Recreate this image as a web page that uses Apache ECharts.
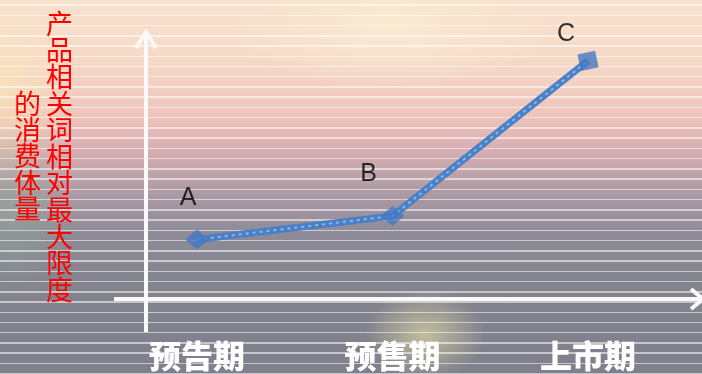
<!DOCTYPE html>
<html>
<head>
<meta charset="utf-8">
<script src="https://cdn.jsdelivr.net/npm/echarts@6/dist/echarts.min.js"></script>
<style>
html,body{margin:0;padding:0;}
#wrap{position:relative;width:702px;height:374px;overflow:hidden;
background:
 repeating-linear-gradient(to bottom, rgba(255,255,255,0) 0px, rgba(255,255,255,0) 4.3px, rgba(255,255,255,0.55) 4.3px, rgba(255,255,255,0.55) 5.8px, rgba(255,255,255,0) 5.8px, rgba(255,255,255,0) 10.24px),
 radial-gradient(ellipse 60px 45px at 425px 335px, rgba(215,210,160,0.75), rgba(215,210,160,0)),
 radial-gradient(ellipse 70px 90px at 5px 90px, rgba(250,235,180,0.6), rgba(250,235,180,0)),
 radial-gradient(ellipse 55px 90px at 15px 210px, rgba(140,170,150,0.55), rgba(140,170,150,0)),
 radial-gradient(ellipse 160px 60px at 390px 30px, rgba(252,238,210,0.7), rgba(252,238,210,0)),
 linear-gradient(to bottom, #f8e2cd 0%, #f6d9c8 16%, #efc6bd 30%, #d8aeb2 40%, #ab9aa5 52%, #8f8b98 62%, #84848f 75%, #7f808c 100%);
}
#chart{position:absolute;left:0;top:0;width:702px;height:374px;}
</style>
</head>
<body>
<div id="wrap"><div id="chart"></div></div>
<script>
// ---- data ----
var categories = ['预告期', '预售期', '上市期'];
var pointLabels = ['A', 'B', 'C'];
var values = [21.8, 30.6, 88.5];
var yTitleCol1 = '产品相关词相对最大限度';
var yTitleCol2 = '的消费体量';

var chart = echarts.init(document.getElementById('chart'), null, {renderer: 'canvas'});

var labelOffsets = [[-9, -41], [-24, -42], [-22, -27]];
var scatterData = values.map(function (v, i) {
  return {
    value: v,
    symbol: i === 2 ? 'rect' : 'diamond',
    symbolRotate: i === 2 ? 12 : 0,
    label: {show: true, formatter: pointLabels[i], position: 'inside', offset: labelOffsets[i]}
  };
});

function vertical(s) { return s.split('').join('\n'); }

var option = {
  backgroundColor: 'transparent',
  animation: false,
  grid: {left: 197, right: 114, top: 30, bottom: 76, containLabel: false},
  xAxis: {
    type: 'category',
    data: categories,
    boundaryGap: false,
    axisLine: {show: false},
    axisTick: {show: false},
    splitLine: {show: false},
    axisLabel: {
      margin: 42,
      color: '#ffffff',
      fontSize: 32,
      fontWeight: 900,
      fontFamily: '"Noto Sans CJK SC", sans-serif'
    }
  },
  yAxis: {
    type: 'value',
    min: 0,
    max: 100,
    show: false
  },
  graphic: [
    {type: 'line', shape: {x1: 146, y1: 332, x2: 146, y2: 32}, style: {stroke: '#fafafa', lineWidth: 4}, z: 1},
    {type: 'polyline', shape: {points: [[136, 48], [146, 32], [156, 48]]}, style: {stroke: '#fafafa', lineWidth: 4, fill: null}, z: 1},
    {type: 'line', shape: {x1: 114, y1: 299, x2: 700, y2: 299}, style: {stroke: '#fafafa', lineWidth: 4}, z: 1},
    {type: 'polyline', shape: {points: [[691, 289], [703, 299], [691, 309]]}, style: {stroke: '#fafafa', lineWidth: 4, fill: null}, z: 1},
    {type: 'text', left: 46, top: 10, style: {text: vertical(yTitleCol1), fill: '#ff0000', fontSize: 27, lineHeight: 26.6, fontFamily: '"Noto Sans CJK SC", sans-serif'}, z: 5},
    {type: 'text', left: 14, top: 90, style: {text: vertical(yTitleCol2), fill: '#ff0000', fontSize: 27, lineHeight: 26.3, fontFamily: '"Noto Sans CJK SC", sans-serif'}, z: 5}
  ],
  series: [
    {
      type: 'line',
      data: values,
      showSymbol: false,
      symbol: 'none',
      lineStyle: {color: '#4a80c6', width: 7},
      z: 3
    },
    {
      type: 'line',
      data: values,
      showSymbol: false,
      symbol: 'none',
      lineStyle: {color: 'rgba(160,195,235,0.8)', width: 2, type: [3, 4]},
      z: 4
    },
    {
      type: 'scatter',
      data: scatterData,
      symbolSize: function (v, p) { return p.dataIndex === 2 ? [18, 17] : [24, 20]; },
      itemStyle: {color: '#4479c2'},
      label: {color: '#000000', fontSize: 25, fontFamily: 'Liberation Sans, Arial, sans-serif', align: 'center', verticalAlign: 'middle'},
      z: 5
    }
  ]
};
chart.setOption(option);
</script>
</body>
</html>
